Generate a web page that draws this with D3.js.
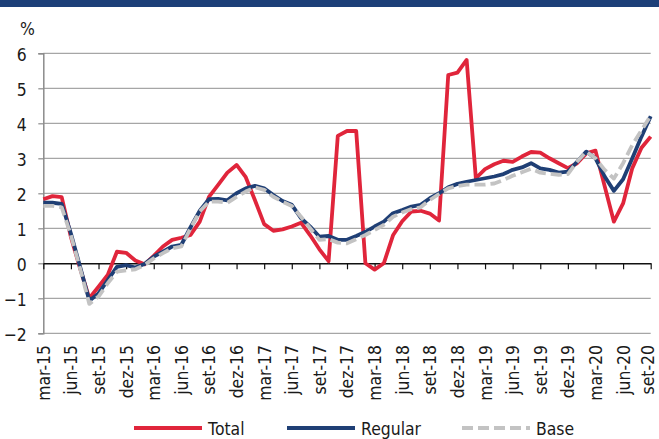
<!DOCTYPE html>
<html>
<head>
<meta charset="utf-8">
<script src="https://cdn.jsdelivr.net/npm/d3@7"></script>
<style>
  body { margin: 0; background: #fff; }
  svg { display: block; font-family: "DejaVu Sans", Verdana, sans-serif; }
</style>
</head>
<body>
<div id="chart"></div>
<script>
// Tick labels on the x axis, one every 3 months (mar-15 .. set-20)
var tickLabels = ["mar-15", "jun-15", "set-15", "dez-15", "mar-16", "jun-16", "set-16", "dez-16",
    "mar-17", "jun-17", "set-17", "dez-17", "mar-18", "jun-18", "set-18", "dez-18",
    "mar-19", "jun-19", "set-19", "dez-19", "mar-20", "jun-20", "set-20"];

// Monthly values, mar-15 .. set-20 (67 months)
var total = [1.83, 1.92, 1.89, 0.75, -0.15, -1.0, -0.67, -0.33, 0.33, 0.3,
    0.08, -0.03, 0.21, 0.48, 0.67, 0.73, 0.81, 1.19, 1.9, 2.24,
    2.59, 2.81, 2.46, 1.8, 1.12, 0.93, 0.97, 1.05, 1.16, 0.8,
    0.4, 0.06, 3.64, 3.78, 3.78, 0.0, -0.18, 0.0, 0.8, 1.2,
    1.48, 1.5, 1.42, 1.22, 5.38, 5.45, 5.81, 2.43, 2.69, 2.83,
    2.93, 2.9, 3.05, 3.18, 3.16, 3.0, 2.86, 2.72, 2.86, 3.14,
    3.22, 2.2, 1.19, 1.71, 2.72, 3.3, 3.62];

var regular = [1.73, 1.73, 1.7, 0.85, -0.1, -1.07, -0.86, -0.48, -0.1, -0.05,
    -0.12, -0.02, 0.19, 0.33, 0.48, 0.53, 1.03, 1.5, 1.83, 1.84,
    1.8, 2.0, 2.14, 2.21, 2.14, 1.95, 1.78, 1.67, 1.29, 1.05,
    0.76, 0.78, 0.67, 0.67, 0.78, 0.9, 1.05, 1.19, 1.43, 1.52,
    1.62, 1.67, 1.86, 2.0, 2.17, 2.27, 2.33, 2.38, 2.43, 2.48,
    2.55, 2.67, 2.74, 2.86, 2.71, 2.67, 2.59, 2.62, 2.9, 3.19,
    3.0, 2.48, 2.07, 2.4, 3.0, 3.62, 4.2];

var base = [1.64, 1.64, 1.6, 0.8, -0.15, -1.16, -0.95, -0.57, -0.24, -0.2,
    -0.17, -0.05, 0.14, 0.29, 0.43, 0.48, 1.0, 1.48, 1.76, 1.76,
    1.73, 1.9, 2.05, 2.17, 2.1, 1.9, 1.76, 1.64, 1.33, 1.0,
    0.67, 0.69, 0.59, 0.57, 0.69, 0.81, 0.95, 1.1, 1.33, 1.45,
    1.55, 1.6, 1.81, 1.98, 2.14, 2.21, 2.25, 2.25, 2.25, 2.28,
    2.38, 2.5, 2.6, 2.7, 2.59, 2.56, 2.53, 2.55, 2.9, 3.19,
    3.0, 2.67, 2.42, 2.86, 3.38, 3.8, 4.22];

var seriesNames = ["Total", "Regular", "Base"];
var yTicks = [-2, -1, 0, 1, 2, 3, 4, 5, 6];

var width = 659, height = 439;
// text in the original is narrow and tall, squeeze DejaVu a bit
var fontSize = 18, squeeze = 0.87;
var svg, xScale, yScale;

function init() {
    svg = d3.select("#chart")
        .append("svg")
        .attr("width", width)
        .attr("height", height);

    // navy band left at the top (cut-off title box)
    svg.append("rect")
        .attr("x", 0).attr("y", 0)
        .attr("width", width).attr("height", 7)
        .attr("fill", "#1d3f78");

    xScale = d3.scaleLinear()
        .domain([0, total.length - 1])
        .range([43.3, 650.7]);

    yScale = d3.scaleLinear()
        .domain([-2, 6])
        .range([333.3, 53.3]);

    // gridlines
    svg.append("g")
        .selectAll("line")
        .data(yTicks.filter(function (d) { return d !== 0; }))
        .enter()
        .append("line")
        .attr("x1", xScale(0))
        .attr("x2", xScale(total.length - 1))
        .attr("y1", function (d) { return yScale(d); })
        .attr("y2", function (d) { return yScale(d); })
        .attr("stroke", "#a6a6a6")
        .attr("stroke-width", 1.2);

    // y axis
    var yAxis = d3.axisLeft(yScale)
        .tickValues(yTicks)
        .tickSize(5)
        .tickFormat(d3.format("d"));

    var gy = svg.append("g")
        .attr("transform", "translate(" + xScale(0) + ",0)")
        .call(yAxis);
    gy.select(".domain").attr("stroke", "#8c8c8c").attr("stroke-width", 1.5);
    gy.selectAll(".tick line").attr("stroke", "#8c8c8c").attr("stroke-width", 1.2);
    gy.selectAll(".tick text")
        .attr("font-size", fontSize)
        .attr("font-family", "DejaVu Sans")
        .attr("fill", "#1a1a1a")
        .attr("x", -16.6 / squeeze)
        .attr("transform", "scale(" + squeeze + ",1)")
        .attr("dy", "0.42em");

    // x axis on the zero line, ticks every 3 months
    var tickIdx = tickLabels.map(function (d, i) { return i * 3; });
    var xAxis = d3.axisBottom(xScale)
        .tickValues(tickIdx)
        .tickSize(6)
        .tickSizeOuter(0)
        .tickFormat("");

    var gx = svg.append("g")
        .attr("transform", "translate(0," + yScale(0) + ")")
        .call(xAxis);
    gx.select(".domain").attr("stroke", "#111").attr("stroke-width", 1.5);
    gx.selectAll(".tick line").attr("stroke", "#111").attr("stroke-width", 1.2);

    // month labels below the plot, rotated
    svg.append("g")
        .selectAll("text")
        .data(tickLabels)
        .enter()
        .append("text")
        .attr("transform", function (d, i) {
            return "translate(" + xScale(i * 3) + ",345) rotate(-90) scale(" + squeeze + ",1)";
        })
        .attr("text-anchor", "end")
        // last label sits at the right edge, nudge it in a little
        .attr("dy", function (d, i) { return i === tickLabels.length - 1 ? "0.2em" : "0.36em"; })
        .attr("font-size", fontSize)
        .attr("fill", "#1a1a1a")
        .text(function (d) { return d; });

    // % label
    svg.append("text")
        .attr("transform", "translate(20,35) scale(" + squeeze + ",1)")
        .attr("font-size", fontSize)
        .attr("fill", "#1a1a1a")
        .text("%");

    var line = d3.line()
        .x(function (d, i) { return xScale(i); })
        .y(function (d) { return yScale(d); });

    var styles = [
        { data: total, color: "#e0253b", dash: null },
        { data: regular, color: "#1f3f75", dash: null },
        { data: base, color: "#c3c3c3", dash: "11,5" }
    ];

    styles.forEach(function (s) {
        svg.append("path")
            .datum(s.data)
            .attr("fill", "none")
            .attr("stroke", s.color)
            .attr("stroke-width", 3.8)
            .attr("stroke-linejoin", "round")
            .attr("stroke-dasharray", s.dash)
            .attr("d", line);
    });

    // legend
    var legendX = [134, 287, 462];
    var leg = svg.append("g")
        .selectAll("g")
        .data(seriesNames)
        .enter()
        .append("g")
        .attr("transform", function (d, i) { return "translate(" + legendX[i] + ",428)"; });

    leg.append("line")
        .attr("x1", 0).attr("x2", 68)
        .attr("y1", 0).attr("y2", 0)
        .attr("stroke", function (d, i) { return styles[i].color; })
        .attr("stroke-width", 3.8)
        .attr("stroke-dasharray", function (d, i) { return styles[i].dash; });

    leg.append("text")
        .attr("transform", "translate(74,7) scale(" + squeeze + ",1)")
        .attr("font-size", fontSize)
        .attr("fill", "#1a1a1a")
        .text(function (d) { return d; });
}

window.onload = init;
</script>
</body>
</html>
